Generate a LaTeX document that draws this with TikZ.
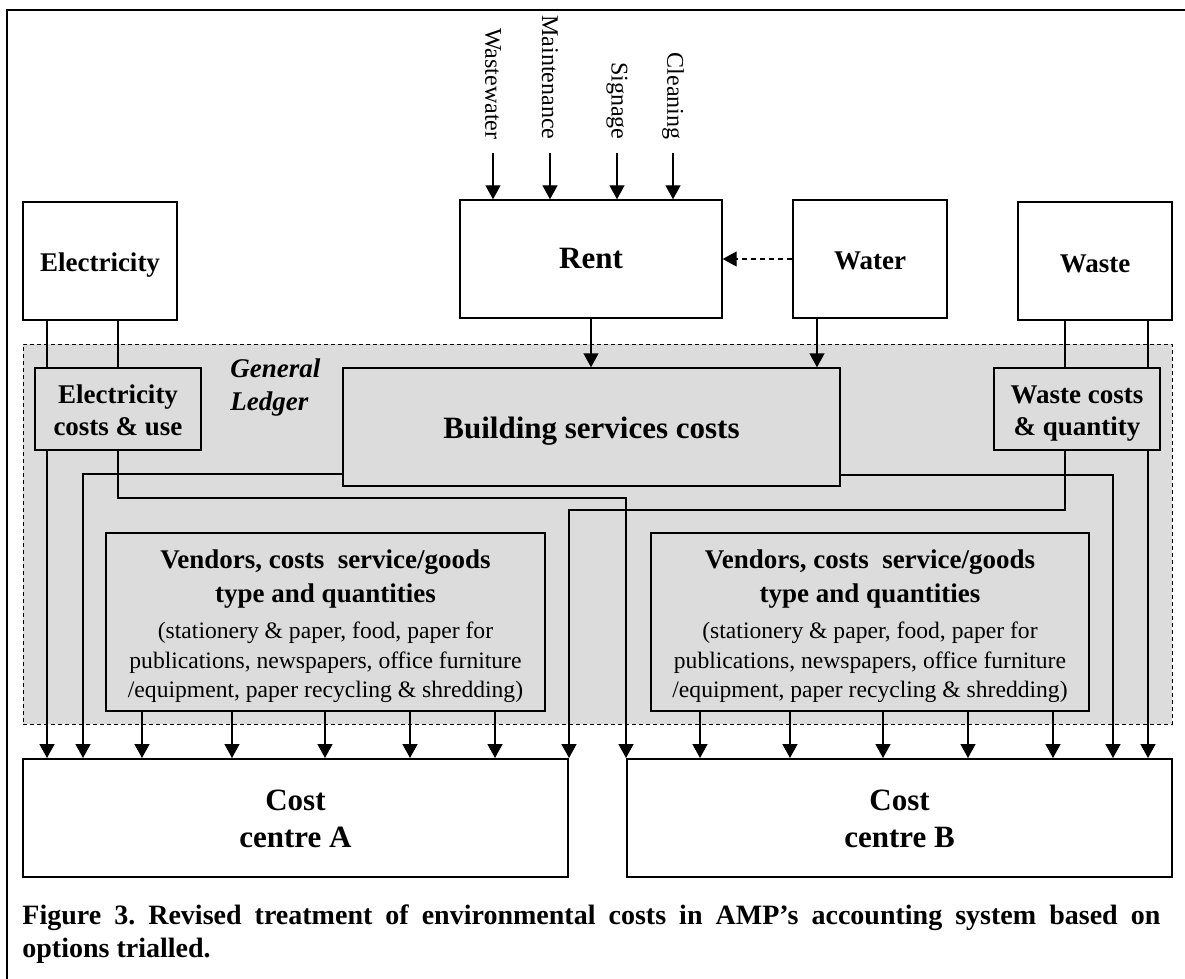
\documentclass[tikz,border=0pt]{standalone}
\usepackage{fontspec}
\setmainfont{Liberation Serif}
\usetikzlibrary{arrows.meta,fit,calc}
\definecolor{glgray}{RGB}{220,220,220}
\begin{document}
\begin{tikzpicture}[x=0.5pt,y=-0.5pt,
  tbox/.style={draw, line width=0.7pt, inner sep=0pt},
  glbox/.style={tbox, fill=glgray},
  txt/.style={anchor=base, inner sep=0pt, font=\bfseries\fontsize{13.5}{17}\selectfont},
  bigtxt/.style={anchor=base, inner sep=0pt, font=\bfseries\fontsize{15.5}{18.5}\selectfont},
  body/.style={anchor=base, inner sep=0pt, font=\fontsize{11.8}{15}\selectfont},
  conn/.style={line width=0.7pt},
  arr/.style={conn, -{Triangle[length=7pt,width=7.5pt]}},
  lbl/.style={rotate=-90, anchor=east, inner sep=0pt, font=\fontsize{12}{14}\selectfont},
  gltxt/.style={anchor=base west, inner sep=0pt, font=\bfseries\itshape\fontsize{13.5}{16.5}\selectfont},
  captxt/.style={anchor=base west, inner sep=0pt, font=\bfseries\fontsize{14}{16.5}\selectfont\frenchspacing}]
\useasboundingbox (0,0) rectangle (1185,979);
% outer frame (left and top visible)
\draw[line width=1pt] (7,979) -- (7,10) -- (1185,10);

% general ledger region
\node[draw, dashed, dash pattern=on 2pt off 1.5pt, line width=0.4pt, fill=glgray, inner sep=0pt, fit={(23,344)(1172,724)}] (gl) {};
\node[gltxt] (glt1) at (230,377) {General};
\node[gltxt] (glt2) at (230,410) {Ledger};

% top boxes
\node[tbox, fit={(23,202)(177,320)}] (elec) {};
\node[txt] (elecT) at ([yshift=-5pt]elec.center) {Electricity};
\node[tbox, fit={(460,200)(722,318)}] (rent) {};
\node[bigtxt] (rentT) at ([yshift=-5pt]rent.center) {Rent};
\node[tbox, fit={(793,200)(947,318)}] (water) {};
\node[txt] (waterT) at ([yshift=-5.5pt]water.center) {Water};
\node[tbox, fit={(1018,202)(1172,320)}] (waste) {};
\node[txt] (wasteT) at ([yshift=-5.5pt]waste.center) {Waste};

% ledger boxes
\node[glbox, fit={(35,368)(201,450)}] (ecost) {};
\node[txt] (ecostT1) at ([yshift=3pt]ecost.center) {Electricity};
\node[txt] (ecostT2) at ([yshift=-13pt]ecost.center) {costs \& use};
\node[glbox, fit={(994,368)(1160,450)}] (wcost) {};
\node[txt] (wcostT1) at ([yshift=3pt]wcost.center) {Waste costs};
\node[txt] (wcostT2) at ([yshift=-13pt]wcost.center) {\& quantity};
\node[glbox, fit={(343,368)(840,486)}] (bld) {};
\node[bigtxt] (bldT) at ([yshift=-5.5pt]bld.center) {Building services costs};

\node[glbox, fit={(106,533)(545,711)}] (vendA) {};
\node[glbox, fit={(651,533)(1089,711)}] (vendB) {};
\foreach \v in {vendA,vendB}{
  \node[txt] (\v-h1) at ([yshift=27pt]\v.center) {Vendors, costs\ \ service/goods};
  \node[txt] (\v-h2) at ([yshift=10pt]\v.center) {type and quantities};
  \node[body] (\v-b1) at ([yshift=-8pt]\v.center) {(stationery \& paper, food, paper for};
  \node[body] (\v-b2) at ([yshift=-23pt]\v.center) {publications, newspapers, office furniture};
  \node[body] (\v-b3) at ([yshift=-37.5pt]\v.center) {/equipment, paper recycling \& shredding)};
}

% cost centres
\node[tbox, line width=1pt, fit={(23,759)(568,877)}] (costA) {};
\node[bigtxt] (costAT1) at ([yshift=4pt]costA.center) {Cost};
\node[bigtxt] (costAT2) at ([yshift=-14.5pt]costA.center) {centre A};
\node[tbox, line width=1pt, fit={(627,759)(1172,877)}] (costB) {};
\node[bigtxt] (costBT1) at ([yshift=4pt]costB.center) {Cost};
\node[bigtxt] (costBT2) at ([yshift=-14.5pt]costB.center) {centre B};

% vertical labels above rent
\foreach \x/\t/\n in {493/Wastewater/lw, 550/Maintenance/lm, 617/Signage/ls, 673/Cleaning/lc}{
  \node[lbl] (\n) at (\x,140) {\t};
  \draw[arr] ([yshift=-6.5pt]\n.east) -- (\n.east |- rent.north);
}

% helper coordinates for line positions
\coordinate (xE1) at (47,0);
\coordinate (xE2) at (118,0);
\coordinate (xBL) at (83,0);
\coordinate (xBR) at (1113,0);
\coordinate (xW1) at (1065,0);
\coordinate (xW2) at (1148,0);
\coordinate (xWa) at (817,0);
\coordinate (yE2) at (0,498);
\coordinate (yW1) at (0,510);
\coordinate (yBL) at (0,474);
\coordinate (yBR) at (0,475);

% electricity
\draw[conn] (elec.south -| xE1) -- (ecost.north -| xE1);
\draw[conn] (elec.south -| xE2) -- (ecost.north -| xE2);
\draw[arr] (ecost.south -| xE1) -- (costA.north -| xE1);
\draw[arr] (ecost.south -| xE2) |- (costB.north west |- yE2) -- (costB.north west);

% waste
\draw[conn] (waste.south -| xW1) -- (wcost.north -| xW1);
\draw[conn] (waste.south -| xW2) -- (wcost.north -| xW2);
\draw[arr] (wcost.south -| xW1) |- (costA.north east |- yW1) -- (costA.north east);
\draw[arr] (wcost.south -| xW2) -- (costB.north -| xW2);

% building services
\draw[arr] (bld.west |- yBL) -| (costA.north -| xBL);
\draw[arr] (bld.east |- yBR) -| (costB.north -| xBR);

% rent and water
\draw[arr] (rent.south) -- (bld.north -| rent.south);
\draw[arr] (water.south -| xWa) -- (bld.north -| xWa);
\draw[arr, dashed, dash pattern=on 2.5pt off 2pt] (water.west) -- (rent.east);

% vendors to cost centres
\foreach \x in {142,232,325,410,495}{
  \coordinate (t) at (\x,0);
  \draw[arr] (vendA.south -| t) -- (costA.north -| t);
}
\foreach \x in {700,790,883,968,1053}{
  \coordinate (t) at (\x,0);
  \draw[arr] (vendB.south -| t) -- (costB.north -| t);
}

% caption
\node[captxt] (cap1) at (22,924) {\hbox to 569pt{Figure 3. Revised treatment of environmental costs in AMP’s accounting system based on}};
\node[captxt] (cap2) at (22,957) {options trialled.};
\end{tikzpicture}
\end{document}
